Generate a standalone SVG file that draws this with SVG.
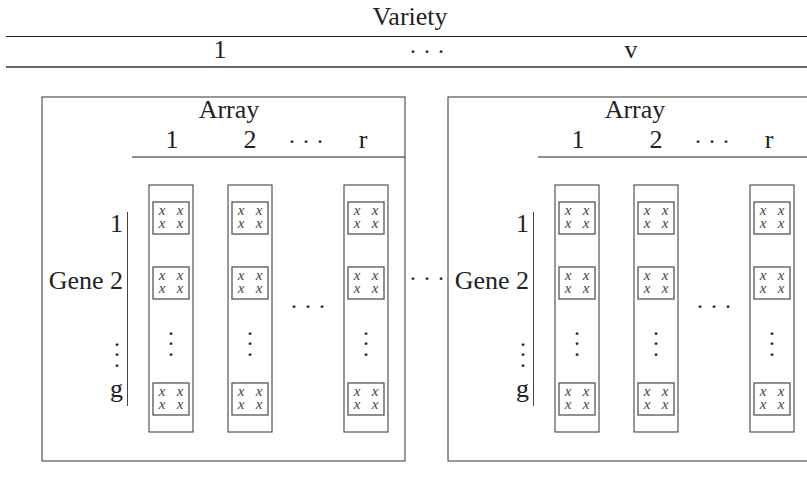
<svg xmlns="http://www.w3.org/2000/svg" xmlns:xlink="http://www.w3.org/1999/xlink" width="807" height="487" viewBox="0 0 807 487">
<style>
.t{font-size:26px;fill:#222}
.x{font-style:italic;font-size:15px;fill:#444;text-anchor:middle}
.d{font-size:24px;fill:#222;text-anchor:middle;letter-spacing:6px}
.v{font-size:24px;fill:#222;text-anchor:middle}
.box{fill:none;stroke:#333;stroke-width:1}
.cell{fill:none;stroke:#555;stroke-width:1.3}
.rule{stroke:#222;stroke-width:1.2}
</style>
<defs>
<g id="cellT" font-family="'Liberation Serif', 'Times New Roman', 'DejaVu Serif', serif">
<rect class="cell" x="0" y="0" width="36" height="32"/>
<text class="x" x="9" y="13">x</text><text class="x" x="27" y="13">x</text>
<text class="x" x="9" y="26">x</text><text class="x" x="27" y="26">x</text>
</g>
<g id="colT" font-family="'Liberation Serif', 'Times New Roman', 'DejaVu Serif', serif">
<rect class="box" x="0" y="0" width="44" height="247"/>
<use xlink:href="#cellT" x="4" y="17"/>
<use xlink:href="#cellT" x="4" y="82"/>
<text class="v"><tspan x="22" y="155.5">·</tspan><tspan x="22" y="165.5">·</tspan><tspan x="22" y="176.5">·</tspan></text>
<use xlink:href="#cellT" x="4" y="198"/>
</g>
<g id="panelT" font-family="'Liberation Serif', 'Times New Roman', 'DejaVu Serif', serif">
<rect class="box" x="42" y="97" width="363" height="364"/>
<text class="t" x="229" y="118" text-anchor="middle">Array</text>
<text class="t" x="172" y="148" text-anchor="middle">1</text>
<text class="t" x="250" y="148" text-anchor="middle">2</text>
<text class="d" x="309" y="148.5">···</text>
<text class="t" x="363" y="148" text-anchor="middle">r</text>
<line class="rule" x1="132" y1="157" x2="405" y2="157"/>
<text class="t" x="123" y="232" text-anchor="end">1</text>
<text class="t" x="123" y="289" text-anchor="end">Gene 2</text>
<text class="v"><tspan x="117" y="351.5">·</tspan><tspan x="117" y="361.5">·</tspan><tspan x="117" y="372.5">·</tspan></text>
<text class="t" x="123" y="397" text-anchor="end">g</text>
<line x1="127.5" y1="212" x2="127.5" y2="406" stroke="#444" stroke-width="1"/>
<use xlink:href="#colT" x="149" y="185"/>
<use xlink:href="#colT" x="228" y="185"/>
<text class="d" x="311" y="313.5">···</text>
<use xlink:href="#colT" x="344" y="185"/>
</g>
</defs>
<g id="header" font-family="'Liberation Serif', 'Times New Roman', 'DejaVu Serif', serif">
<text class="t" x="410" y="25" text-anchor="middle">Variety</text>
<line class="rule" x1="6" y1="36.5" x2="807" y2="36.5"/>
<text class="t" x="220" y="58" text-anchor="middle">1</text>
<text class="d" x="430" y="58.5">···</text>
<text class="t" x="631" y="58" text-anchor="middle">v</text>
<line x1="6" y1="67" x2="807" y2="67" stroke="#666" stroke-width="1.8"/>
</g>
<g id="variety-1"><use xlink:href="#panelT"/></g>
<g id="between" font-family="'Liberation Serif', 'Times New Roman', 'DejaVu Serif', serif"><text class="d" x="430" y="285.5">···</text></g>
<g id="variety-v"><use xlink:href="#panelT" x="406"/></g>
<g id="connectors"/>
</svg>
